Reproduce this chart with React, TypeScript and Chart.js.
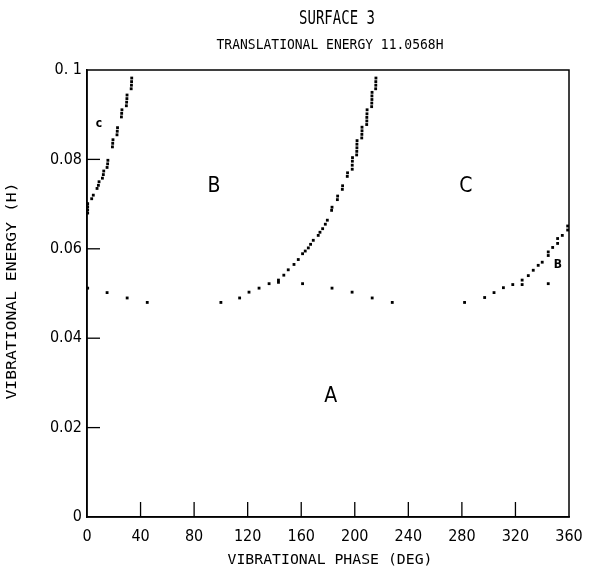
import React, { useEffect, useRef } from "react";
import { Chart, registerables } from "chart.js";

Chart.register(...registerables);

const chartTitle = "SURFACE 3";
const chartSubtitle = "TRANSLATIONAL ENERGY 11.0568H";
const xAxisTitle = "VIBRATIONAL PHASE (DEG)";
const yAxisTitle = "VIBRATIONAL ENERGY (H)";

const xTickValues = [0, 40, 80, 120, 160, 200, 240, 280, 320, 360];
const yTickValues = [0, 0.02, 0.04, 0.06, 0.08, 0.1];
const yTickLabels = ["0", "0.02", "0.04", "0.06", "0.08", "0. 1"];

// lower boundary (A region edge)
const lowerX = [0.5, 15, 30, 45, 100, 114, 121, 128.5, 136, 143, 143, 161, 183, 198, 213, 228, 282, 297, 304, 311, 318, 325, 344.5];
const lowerY = [0.0512, 0.0502, 0.049, 0.048, 0.048, 0.049, 0.0503, 0.0512, 0.0522, 0.053, 0.0525, 0.0522, 0.0512, 0.0503, 0.049, 0.048, 0.048, 0.0491, 0.0502, 0.0513, 0.052, 0.052, 0.0522];

// left rising curve (C region edge near 0 deg)
const leftX = [0.5, 0.5, 0.5, 0.5, 3.5, 4.7, 7.5, 8.5, 9.0, 11.5, 12.2, 12.5, 15.0, 15.4, 15.6, 19.0, 19.2, 19.4, 22.4, 22.6, 22.8, 25.7, 25.9, 26.1, 29.4, 29.6, 29.8, 29.9, 33.0, 33.2, 33.3, 33.4];
const leftY = [0.068, 0.0687, 0.0694, 0.0701, 0.0712, 0.072, 0.0735, 0.0742, 0.075, 0.0758, 0.0766, 0.0774, 0.0782, 0.079, 0.0798, 0.0828, 0.0836, 0.0844, 0.0855, 0.0863, 0.0871, 0.0895, 0.0903, 0.0911, 0.092, 0.0928, 0.0936, 0.0944, 0.0958, 0.0966, 0.0974, 0.0982];

// middle rising curve (B / C boundary)
const midX = [147, 150.3, 154.6, 157.8, 161, 163, 165.3, 167, 169, 172.7, 174, 176, 178, 179.5, 182.7, 183, 187, 187.2, 190.7, 190.9, 194.4, 194.6, 198.1, 198.1, 198.2, 198.3, 201.4, 201.5, 201.6, 201.6, 201.7, 205.2, 205.3, 205.4, 205.4, 208.9, 209, 209, 209.1, 209.2, 212.6, 212.7, 212.8, 212.8, 212.9, 215.6, 215.7, 215.7, 215.8];
const midY = [0.0541, 0.0553, 0.0565, 0.0576, 0.0589, 0.0595, 0.0602, 0.061, 0.0619, 0.063, 0.0637, 0.0645, 0.0655, 0.0664, 0.0686, 0.0693, 0.071, 0.0718, 0.0733, 0.0741, 0.0762, 0.077, 0.0778, 0.0787, 0.0796, 0.0804, 0.081, 0.0818, 0.0826, 0.0834, 0.0842, 0.0848, 0.0856, 0.0864, 0.0872, 0.0878, 0.0886, 0.0894, 0.0902, 0.0911, 0.0918, 0.0926, 0.0934, 0.0942, 0.095, 0.0958, 0.0966, 0.0974, 0.0982];

// right rising curve
const rightX = [325, 329.6, 333.3, 337, 340, 344.5, 344.5, 347.8, 351.5, 351.5, 355, 359, 359];
const rightY = [0.053, 0.054, 0.0552, 0.0563, 0.057, 0.0585, 0.0593, 0.0603, 0.0612, 0.0623, 0.063, 0.0642, 0.0651];

// region labels
const regionText = ["B", "C", "A", "c", "B"];
const regionX = [94.8, 283, 182, 9, 351.7];
const regionY = [0.074, 0.074, 0.027, 0.088, 0.0563];
const regionBig = [true, true, true, false, false];

const NARROW = "'Liberation Sans Narrow', 'DejaVu Sans Condensed', 'Roboto', sans-serif";
const MONO = "'DejaVu Sans Mono', 'Liberation Mono', monospace";

function pts(xs: number[], ys: number[]) {
  return xs.map((x, i) => ({ x, y: ys[i] }));
}

function stretchedText(ctx: CanvasRenderingContext2D, text: string, x: number, y: number, font: string, sy: number, rot = 0) {
  ctx.save();
  ctx.translate(x, y);
  if (rot) ctx.rotate(rot);
  ctx.scale(1, sy);
  ctx.font = font;
  ctx.textAlign = "center";
  ctx.textBaseline = "middle";
  ctx.fillText(text, 0, 0);
  ctx.restore();
}

const decorPlugin = {
  id: "decor",
  afterDraw(chart: any) {
    const { ctx, chartArea, scales } = chart;
    const xs = scales.x;
    const ys = scales.y;
    ctx.save();
    ctx.strokeStyle = "#000";
    ctx.lineWidth = 1.5;
    ctx.strokeRect(chartArea.left, chartArea.top, chartArea.right - chartArea.left, chartArea.bottom - chartArea.top);
    ctx.lineWidth = 1.3;
    // inward ticks
    xTickValues.slice(1, -1).forEach((v) => {
      const px = xs.getPixelForValue(v);
      ctx.beginPath();
      ctx.moveTo(px, chartArea.bottom);
      ctx.lineTo(px, chartArea.bottom - 15);
      ctx.stroke();
    });
    yTickValues.slice(1, -1).forEach((v) => {
      const py = ys.getPixelForValue(v);
      ctx.beginPath();
      ctx.moveTo(chartArea.left, py);
      ctx.lineTo(chartArea.left + 13, py);
      ctx.stroke();
    });
    ctx.fillStyle = "#000";
    // titles
    stretchedText(ctx, chartTitle, 337, 19, `14px ${MONO}`, 1.4);
    stretchedText(ctx, chartSubtitle, 330, 45, `13px ${MONO}`, 1.05);
    stretchedText(ctx, xAxisTitle, 330, 560, `14.8px ${MONO}`, 1.0);
    stretchedText(ctx, yAxisTitle, 12, 291, `16.4px ${MONO}`, 0.85, -Math.PI / 2);
    // region labels
    ctx.textAlign = "center";
    ctx.textBaseline = "middle";
    regionText.forEach((t, i) => {
      ctx.font = regionBig[i] ? `21px ${NARROW}` : `bold 12px ${NARROW}`;
      ctx.fillText(t, xs.getPixelForValue(regionX[i]), ys.getPixelForValue(regionY[i]));
    });
    ctx.restore();
  },
};

export default function App() {
  const ref = useRef<HTMLCanvasElement>(null);
  useEffect(() => {
    document.body.style.margin = "0";
    const ds = (data: any[]) => ({
      data,
      showLine: false,
      pointStyle: "rect",
      pointRadius: 2,
      pointBackgroundColor: "#000",
      pointBorderColor: "#000",
      pointBorderWidth: 0,
    });
    const chart = new Chart(ref.current!, {
      type: "scatter",
      data: {
        datasets: [
          ds(pts(lowerX, lowerY)),
          ds(pts(leftX, leftY)),
          ds(pts(midX, midY)),
          ds(pts(rightX, rightY)),
        ],
      },
      options: {
        animation: false,
        responsive: false,
        layout: { padding: { top: 70, right: 21, left: 2, bottom: 0 } },
        plugins: { legend: { display: false }, tooltip: { enabled: false }, title: { display: false } },
        scales: {
          x: {
            type: "linear",
            min: 0,
            max: 360,
            afterBuildTicks: (axis: any) => {
              axis.ticks = xTickValues.map((v) => ({ value: v }));
            },
            afterFit: (axis: any) => {
              axis.height = 52;
              axis.paddingRight = 0;
              axis.paddingLeft = 0;
            },
            grid: { display: false, drawTicks: false },
            border: { display: true, color: "#000", width: 1.5 },
            ticks: {
              color: "#000",
              padding: 10,
              font: { family: NARROW, size: 16 },
              maxRotation: 0,
              autoSkip: false,
            },
            title: { display: false },
          },
          y: {
            type: "linear",
            min: 0,
            max: 0.1,
            afterBuildTicks: (axis: any) => {
              axis.ticks = yTickValues.map((v) => ({ value: v }));
            },
            afterFit: (axis: any) => {
              axis.width = 85;
              axis.paddingTop = 0;
              axis.paddingBottom = 0;
            },
            grid: { display: false, drawTicks: false },
            border: { display: true, color: "#000", width: 1.5 },
            ticks: {
              color: "#000",
              padding: 5,
              font: { family: NARROW, size: 16 },
              autoSkip: false,
              callback: (v: any) => {
                const i = yTickValues.findIndex((t) => Math.abs(t - Number(v)) < 1e-9);
                return i >= 0 ? yTickLabels[i] : "";
              },
            },
            title: { display: false },
          },
        },
      } as any,
      plugins: [decorPlugin],
    });
    return () => chart.destroy();
  }, []);
  return (
    <div style={{ width: 590, height: 569, background: "#fff" }}>
      <canvas ref={ref} width={590} height={569} style={{ display: "block" }} />
    </div>
  );
}
